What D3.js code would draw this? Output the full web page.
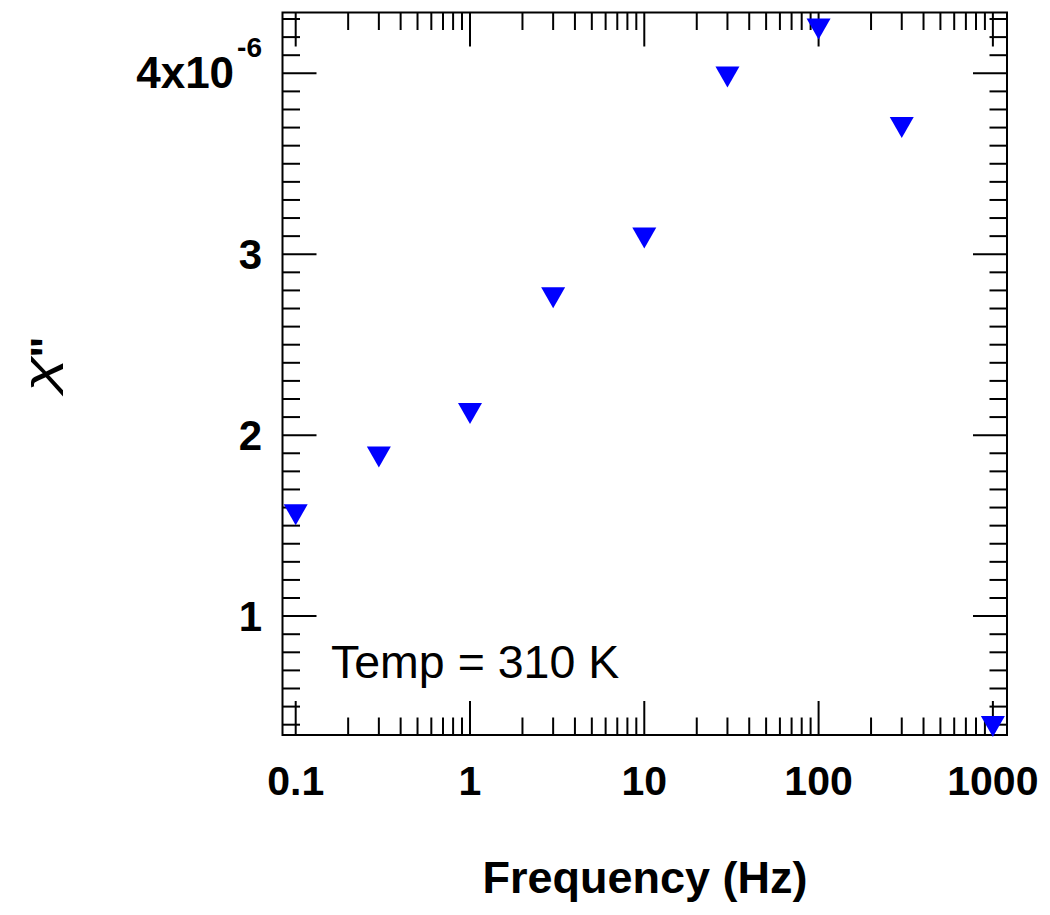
<!DOCTYPE html>
<html>
<head>
<meta charset="utf-8">
<script src="https://cdn.jsdelivr.net/npm/d3@7"></script>
<style>
  html, body { margin: 0; padding: 0; background: #fff; }
  svg { display: block; }
  text { font-family: "Liberation Sans", Arial, sans-serif; fill: #000; }
</style>
</head>
<body>
<svg id="chart" width="1050" height="915"></svg>
<script>
// ---- data ----
const frequencies = [0.1, 0.3, 1, 3, 10, 30, 100, 300, 1000];
const chiDoublePrime = [1.56e-6, 1.88e-6, 2.12e-6, 2.76e-6, 3.09e-6, 3.98e-6, 4.245e-6, 3.70e-6, 0.39e-6];
const xTickValues = [0.1, 1, 10, 100, 1000];
const xTickLabels = ["0.1", "1", "10", "100", "1000"];
const yTickValues = [1e-6, 2e-6, 3e-6, 4e-6];
const yTickLabels = ["1", "2", "3", "4x10"];
const xTitle = "Frequency (Hz)";
const annotation = "Temp = 310 K";

// ---- layout ----
const pL = 282.5, pR = 1007, pT = 12.5, pB = 735;
const svg = d3.select("#chart");

const x = d3.scaleLog().domain([Math.pow(10, -1.0757), Math.pow(10, 3.081)]).range([pL, pR]);
const y = d3.scaleLinear().domain([0.343e-6, 4.336e-6]).range([pB, pT]);

const majorLen = 34, minorLen = 17.5;

const xMinor = [];
for (let e = -1; e <= 3; e++) {
  for (let m = 2; m <= 9; m++) {
    const v = m * Math.pow(10, e);
    if (x(v) < pR - 1) xMinor.push(v);
  }
}
const yMinor = [];
for (let i = 4; i <= 43; i++) {
  if (i % 10 !== 0) yMinor.push(i * 0.1e-6);
}

const g = svg.append("g").attr("stroke", "#000").attr("stroke-width", 2);

function xTicks(vals, len) {
  vals.forEach(v => {
    const px = x(v);
    g.append("line").attr("x1", px).attr("x2", px).attr("y1", pB).attr("y2", pB - len);
    g.append("line").attr("x1", px).attr("x2", px).attr("y1", pT).attr("y2", pT + len);
  });
}
xTicks(xTickValues, majorLen);
xTicks(xMinor, minorLen);

function yTicks(vals, len) {
  vals.forEach(v => {
    const py = y(v);
    g.append("line").attr("x1", pL).attr("x2", pL + len).attr("y1", py).attr("y2", py);
    g.append("line").attr("x1", pR).attr("x2", pR - len).attr("y1", py).attr("y2", py);
  });
}
yTicks(yTickValues, majorLen);
yTicks(yMinor, minorLen);

svg.append("rect").attr("x", pL).attr("y", pT)
  .attr("width", pR - pL).attr("height", pB - pT)
  .attr("fill", "none").attr("stroke", "#000").attr("stroke-width", 2);

svg.selectAll(".xlab").data(xTickValues).enter().append("text")
  .attr("x", d => x(d)).attr("y", 795)
  .attr("text-anchor", "middle")
  .attr("font-size", 41).attr("font-weight", "bold")
  .text((d, i) => xTickLabels[i]);

yTickValues.forEach((v, i) => {
  const t = svg.append("text")
    .attr("x", 262).attr("y", y(v) + 15)
    .attr("text-anchor", "end")
    .attr("font-size", 42).attr("font-weight", "bold");
  if (i === yTickValues.length - 1) {
    t.append("tspan").attr("font-size", 44).text(yTickLabels[i]);
    t.append("tspan").attr("font-size", 28).attr("dx", 3).attr("dy", -31).text("-6");
  } else {
    t.text(yTickLabels[i]);
  }
});

svg.append("text").attr("x", 645).attr("y", 893)
  .attr("text-anchor", "middle").attr("font-size", 45).attr("font-weight", "bold")
  .text(xTitle);

// y title: chi double-prime, rotated
svg.append("text")
  .attr("transform", "translate(54,374) rotate(-90) scale(1.2,0.78)")
  .attr("text-anchor", "middle")
  .attr("font-family", "'DejaVu Serif', serif").attr("font-style", "italic")
  .attr("font-size", 54).text("\u03C7");
svg.append("text")
  .attr("transform", "translate(62,347) rotate(-90)")
  .attr("text-anchor", "middle")
  .attr("font-size", 45).attr("font-weight", "bold").text("\"");

svg.append("text").attr("x", 331).attr("y", 678)
  .attr("font-size", 46.5).text(annotation);

const w = 24, h = 21;
svg.selectAll(".pt").data(frequencies).enter().append("path")
  .attr("d", (d, i) => {
    const cx = x(d), cy = y(chiDoublePrime[i]);
    return `M${cx - w / 2},${cy - h / 2}L${cx + w / 2},${cy - h / 2}L${cx},${cy + h / 2}Z`;
  })
  .attr("fill", "#0000ff");
</script>
</body>
</html>
